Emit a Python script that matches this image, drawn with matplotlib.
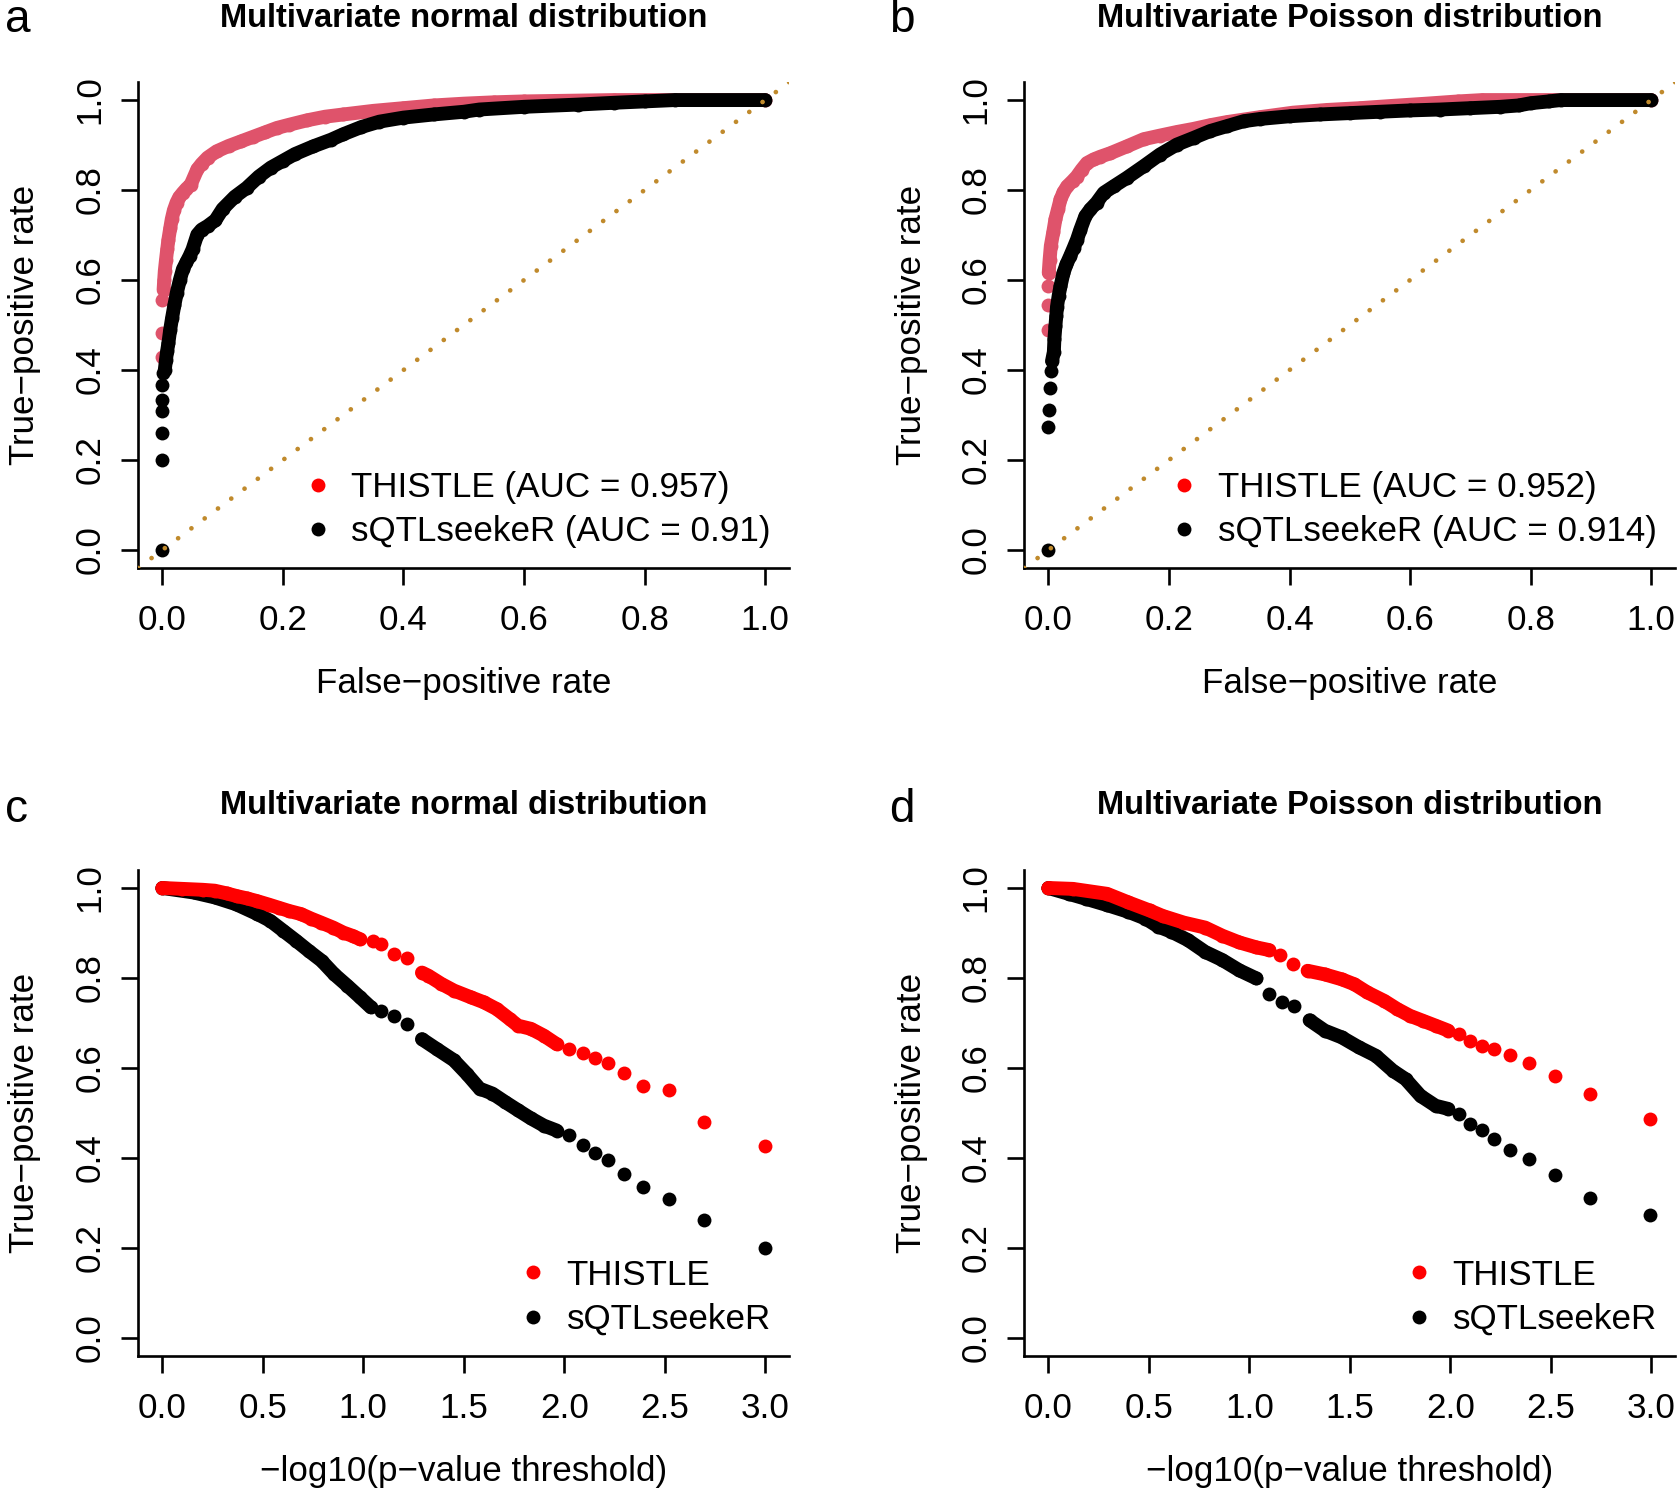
import matplotlib
matplotlib.use("Agg")
import matplotlib.pyplot as plt
from matplotlib.lines import Line2D

plt.rcParams['font.family'] = ['Liberation Sans', 'DejaVu Sans']

nan = float('nan')

# ---- a: ROC, multivariate normal ----
a_thistle_dots_fpr = [0.0, 0.0, 0.0]
a_thistle_dots_tpr = [0.43, 0.482, 0.556]
a_thistle_fpr = [0.002, 0.003, 0.004, 0.006, 0.008, 0.010, 0.013, 0.0155, 0.019, 0.0235, 0.028, 0.034, 0.040, 0.047,
                 0.058, 0.065, 0.075, 0.09, 0.11, 0.13, 0.15, 0.17, 0.19, 0.21, 0.24, 0.27, 0.30, 0.35, 0.40, 0.45,
                 0.50, 0.55, 0.60, 0.70, 0.75, 1.0]
a_thistle_tpr = [0.578, 0.600, 0.620, 0.645, 0.668, 0.690, 0.715, 0.735, 0.755, 0.772, 0.784, 0.794, 0.803, 0.812,
                 0.846, 0.858, 0.872, 0.886, 0.898, 0.908, 0.918, 0.928, 0.938, 0.945, 0.955, 0.963, 0.968, 0.976, 0.982, 0.988,
                 0.992, 0.995, 0.997, 0.999, 1.0, 1.0]
a_seeker_dots_fpr = [0.0, 0.0, 0.0, 0.0, 0.0, 0.0, 0.001]
a_seeker_dots_tpr = [0.0, 0.2, 0.259, 0.308, 0.334, 0.367, 0.393]
a_seeker_fpr = [0.004, 0.006, 0.008, 0.010, 0.013, 0.016, 0.020, 0.024, 0.029, 0.034, 0.040, 0.045, 0.050,
                0.058, 0.065, 0.075, 0.088, 0.100, 0.12, 0.14, 0.16, 0.18, 0.20, 0.22, 0.25, 0.28, 0.30, 0.33, 0.36,
                0.40, 0.45, 0.50, 0.526, 0.60, 0.69, 0.75, 0.80, 0.85, 1.0]
a_seeker_tpr = [0.400, 0.423, 0.443, 0.460, 0.490, 0.515, 0.545, 0.572, 0.600, 0.624, 0.640, 0.653, 0.668,
                0.701, 0.712, 0.720, 0.733, 0.758, 0.785, 0.805, 0.830, 0.850, 0.865, 0.880, 0.897, 0.912, 0.924, 0.940, 0.952,
                0.961, 0.968, 0.974, 0.979, 0.985, 0.990, 0.994, 0.997, 1.0, 1.0]

# ---- b: ROC, multivariate Poisson ----
b_thistle_dots_fpr = [0.0, 0.0, 0.0]
b_thistle_dots_tpr = [0.49, 0.545, 0.586]
b_thistle_fpr = [0.0005, 0.002, 0.004, 0.008, 0.0116, 0.016, 0.020, 0.025, 0.031, 0.040, 0.047, 0.055, 0.064, 0.075,
                 0.086, 0.103, 0.130, 0.158, 0.185, 0.213, 0.241, 0.268, 0.296, 0.351, 0.406, 0.462, 0.517, 0.57,
                 0.627, 0.68, 0.72, 1.0]
b_thistle_tpr = [0.616, 0.645, 0.676, 0.706, 0.735, 0.758, 0.779, 0.795, 0.808, 0.820, 0.830, 0.845, 0.860, 0.868,
                 0.874, 0.882, 0.897, 0.913, 0.921, 0.929, 0.936, 0.944, 0.951, 0.962, 0.972, 0.978, 0.982, 0.987,
                 0.992, 0.997, 1.0, 1.0]
b_seeker_dots_fpr = [0.0, 0.0, 0.001, 0.002, 0.004]
b_seeker_dots_tpr = [0.0, 0.274, 0.311, 0.359, 0.397]
b_seeker_fpr = [0.006, 0.009, 0.010, 0.0116, 0.013, 0.0143, 0.017, 0.020, 0.025, 0.030, 0.036, 0.042, 0.0475, 0.053,
                0.0613, 0.0695, 0.080, 0.092, 0.108, 0.130, 0.158, 0.185, 0.213, 0.241, 0.268, 0.296, 0.324, 0.351,
                0.40, 0.45, 0.50, 0.55, 0.60, 0.65, 0.70, 0.75, 0.78, 0.80, 0.83, 0.85, 1.0]
b_seeker_tpr = [0.420, 0.440, 0.470, 0.497, 0.520, 0.541, 0.565, 0.586, 0.616, 0.635, 0.653, 0.672, 0.690, 0.712,
                0.742, 0.757, 0.772, 0.794, 0.808, 0.827, 0.853, 0.879, 0.901, 0.916, 0.931, 0.942, 0.953, 0.958,
                0.964, 0.968, 0.971, 0.974, 0.977, 0.979, 0.982, 0.985, 0.988, 0.993, 0.997, 1.0, 1.0]

# ---- c: TPR vs threshold, multivariate normal ----
c_thistle_x = [0.0, 0.10, 0.20, 0.26, 0.32, 0.37, 0.42, 0.47, 0.53, 0.58, 0.63, 0.69, 0.74, 0.79, 0.85, 0.90, 0.95, 0.984,
               nan, 1.292, 1.324, 1.388, 1.451, 1.536, 1.60, 1.664, 1.728, 1.77, 1.834, 1.898, 1.962]
c_thistle_y = [1.0, 0.998, 0.996, 0.994, 0.988, 0.982, 0.977, 0.971, 0.963, 0.956, 0.949, 0.942, 0.932, 0.923, 0.912, 0.901, 0.893, 0.886,
               nan, 0.812, 0.805, 0.787, 0.772, 0.757, 0.746, 0.731, 0.709, 0.694, 0.687, 0.672, 0.653]
c_thistle_dots_x = [1.048, 1.09, 1.154, 1.217, 2.026, 2.093, 2.153, 2.217, 2.295, 2.393, 2.519, 2.695, 2.997]
c_thistle_dots_y = [0.883, 0.875, 0.854, 0.844, 0.642, 0.633, 0.622, 0.611, 0.589, 0.559, 0.550, 0.481, 0.426]
c_seeker_x = [0.0, 0.155, 0.261, 0.366, 0.473, 0.537, 0.601, 0.665, 0.729, 0.793, 0.856, 0.92, 0.984, 1.037,
              nan, 1.292, 1.366, 1.451, 1.515, 1.579, 1.643, 1.707, 1.77, 1.834, 1.898, 1.962]
c_seeker_y = [1.0, 0.99, 0.979, 0.964, 0.942, 0.927, 0.905, 0.883, 0.86, 0.838, 0.808, 0.783, 0.757, 0.735,
              nan, 0.664, 0.642, 0.617, 0.587, 0.554, 0.543, 0.524, 0.506, 0.488, 0.472, 0.461]
c_seeker_dots_x = [1.09, 1.154, 1.217, 2.026, 2.093, 2.153, 2.217, 2.295, 2.393, 2.519, 2.695, 2.997]
c_seeker_dots_y = [0.727, 0.716, 0.698, 0.45, 0.428, 0.41, 0.395, 0.365, 0.336, 0.308, 0.262, 0.2]

# ---- d: TPR vs threshold, multivariate Poisson ----
d_thistle_x = [0.0, 0.122, 0.292, 0.398, 0.504, 0.568, 0.674, 0.78, 0.865, 0.95, 1.035, 1.099,
               nan, 1.29, 1.375, 1.46, 1.523, 1.587, 1.672, 1.736, 1.799, 1.863, 1.927, 1.99]
d_thistle_y = [1.0, 0.998, 0.987, 0.968, 0.95, 0.938, 0.923, 0.912, 0.894, 0.879, 0.868, 0.862,
               nan, 0.816, 0.808, 0.797, 0.786, 0.768, 0.749, 0.731, 0.716, 0.705, 0.694, 0.683]
d_thistle_dots_x = [1.152, 1.216, 2.043, 2.096, 2.156, 2.218, 2.298, 2.394, 2.521, 2.695, 2.994]
d_thistle_dots_y = [0.851, 0.832, 0.675, 0.66, 0.649, 0.643, 0.629, 0.611, 0.582, 0.543, 0.487]
d_seeker_x = [0.0, 0.101, 0.186, 0.292, 0.398, 0.483, 0.547, 0.611, 0.695, 0.78, 0.865, 0.95, 1.035,
              nan, 1.3, 1.375, 1.46, 1.545, 1.63, 1.714, 1.778, 1.852, 1.927, 1.99]
d_seeker_y = [1.0, 0.987, 0.976, 0.962, 0.947, 0.932, 0.914, 0.903, 0.884, 0.858, 0.84, 0.817, 0.799,
              nan, 0.706, 0.683, 0.668, 0.646, 0.627, 0.594, 0.575, 0.538, 0.516, 0.509]
d_seeker_dots_x = [1.099, 1.162, 1.222, 2.043, 2.096, 2.156, 2.218, 2.298, 2.394, 2.521, 2.695, 2.994]
d_seeker_dots_y = [0.765, 0.747, 0.737, 0.498, 0.476, 0.462, 0.442, 0.418, 0.398, 0.362, 0.312, 0.274]

roc_ticks = [0.0, 0.2, 0.4, 0.6, 0.8, 1.0]
thr_ticks = [0.0, 0.5, 1.0, 1.5, 2.0, 2.5, 3.0]
auc_labels_a = ["THISTLE (AUC = 0.957)", "sQTLseekeR (AUC = 0.91)"]
auc_labels_b = ["THISTLE (AUC = 0.952)", "sQTLseekeR (AUC = 0.914)"]
plain_labels = ["THISTLE", "sQTLseekeR"]

PINK = "#DF536B"
RED = "#FF0000"
MS = 10.0
FS = 25.2


def draw_series(ax, x, y, dx, dy, color):
    # dense run of points -> thick line + markers, sparse ones -> markers only
    ax.plot(x, y, color=color, lw=MS, solid_capstyle='round', solid_joinstyle='round',
            marker='o', ms=MS, mew=0)
    ax.plot(dx, dy, ls='none', marker='o', ms=MS, mew=0, color=color)


def style_axes(ax, xlim, xticks, xlabel, title, labels, leg_color):
    ax.set_xlim(xlim)
    ax.set_ylim(-0.04, 1.04)
    ax.spines[['top', 'right']].set_visible(False)
    ax.spines[['left', 'bottom']].set_linewidth(1.9)
    ax.set_xticks(xticks)
    ax.set_xticklabels([f"{t:.1f}" for t in xticks])
    ax.set_yticks(roc_ticks)
    ax.set_yticklabels([f"{t:.1f}" for t in roc_ticks])
    ax.tick_params(axis='both', length=12, width=1.9, labelsize=FS)
    ax.tick_params(axis='x', pad=14)
    ax.tick_params(axis='y', pad=11, labelrotation=90)
    for lab in ax.get_yticklabels():
        lab.set_va('center')
    ax.set_xlabel(xlabel, fontsize=FS)
    ax.xaxis.label.set_va('center')
    ax.xaxis.set_label_coords(0.5, -0.238)
    ax.set_ylabel("True\u2212positive rate", fontsize=FS)
    ax.yaxis.label.set_va('center')
    ax.yaxis.set_label_coords(-0.174, 0.5)
    ax.set_title(title, fontsize=23.5, fontweight='bold', pad=40)
    handles = [Line2D([], [], ls='none', marker='o', ms=MS, mew=0, color=leg_color),
               Line2D([], [], ls='none', marker='o', ms=MS, mew=0, color='black')]
    ax.legend(handles, labels, loc='lower right', bbox_to_anchor=(1 - 18.5 / 651, 20 / 485),
              frameon=False, fontsize=FS, handlelength=0.8, handletextpad=0.56,
              labelspacing=0.32, borderpad=0, borderaxespad=0)


fig = plt.figure(figsize=(16.8, 14.92), dpi=100)
W, H = 0.3875, 0.3257
ax_a = fig.add_axes([0.0823, 0.6193, W, H])
ax_b = fig.add_axes([0.6097, 0.6193, W, H])
ax_c = fig.add_axes([0.0823, 0.0912, W, H])
ax_d = fig.add_axes([0.6097, 0.0912, W, H])

draw_series(ax_a, a_thistle_fpr, a_thistle_tpr, a_thistle_dots_fpr, a_thistle_dots_tpr, PINK)
draw_series(ax_a, a_seeker_fpr, a_seeker_tpr, a_seeker_dots_fpr, a_seeker_dots_tpr, 'black')
draw_series(ax_b, b_thistle_fpr, b_thistle_tpr, b_thistle_dots_fpr, b_thistle_dots_tpr, PINK)
draw_series(ax_b, b_seeker_fpr, b_seeker_tpr, b_seeker_dots_fpr, b_seeker_dots_tpr, 'black')
for ax in (ax_a, ax_b):
    ax.axline((0, 0), (1, 1), color='#C08A2C', lw=3.4, ls=(0, (0.01, 3.5)),
              dash_capstyle='round', zorder=5)

draw_series(ax_c, c_seeker_x, c_seeker_y, c_seeker_dots_x, c_seeker_dots_y, 'black')
draw_series(ax_c, c_thistle_x, c_thistle_y, c_thistle_dots_x, c_thistle_dots_y, RED)
draw_series(ax_d, d_seeker_x, d_seeker_y, d_seeker_dots_x, d_seeker_dots_y, 'black')
draw_series(ax_d, d_thistle_x, d_thistle_y, d_thistle_dots_x, d_thistle_dots_y, RED)

fpr_label = "False\u2212positive rate"
thr_label = "\u2212log10(p\u2212value threshold)"
style_axes(ax_a, (-0.04, 1.04), roc_ticks, fpr_label, "Multivariate normal distribution", auc_labels_a, RED)
style_axes(ax_b, (-0.04, 1.04), roc_ticks, fpr_label, "Multivariate Poisson distribution", auc_labels_b, RED)
style_axes(ax_c, (-0.12, 3.12), thr_ticks, thr_label, "Multivariate normal distribution", plain_labels, RED)
style_axes(ax_d, (-0.12, 3.12), thr_ticks, thr_label, "Multivariate Poisson distribution", plain_labels, RED)

for letter, x, y in [("a", 0.003, 1 - 32 / 1492), ("b", 0.529, 1 - 32 / 1492),
                     ("c", 0.003, 1 - 822 / 1492), ("d", 0.529, 1 - 822 / 1492)]:
    fig.text(x, y, letter, fontsize=33, ha='left', va='baseline')

fig.savefig("out.png", dpi=100)
